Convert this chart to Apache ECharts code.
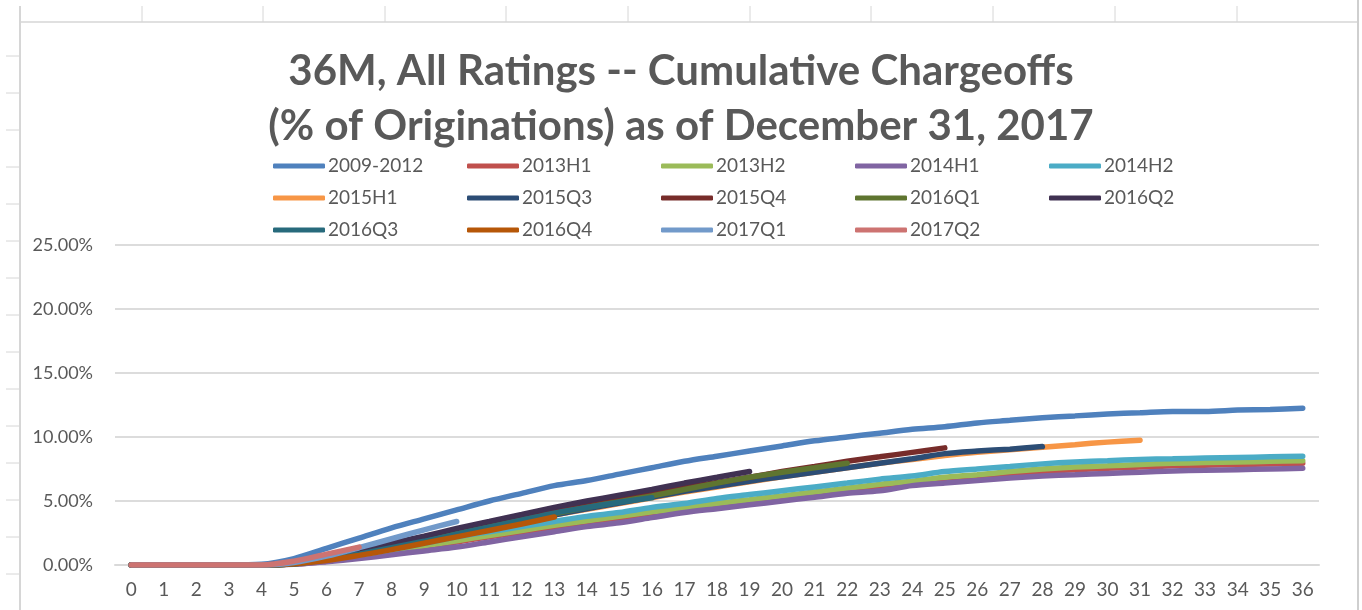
<!DOCTYPE html>
<html>
<head>
<meta charset="utf-8">
<script src="https://cdn.jsdelivr.net/npm/echarts@6/dist/echarts.min.js"></script>
<style>
  html, body { margin: 0; padding: 0; background: #fff; }
  #chart { width: 1362px; height: 610px; }
</style>
</head>
<body>
<div id="chart"></div>
<script>
// months on book
const months = ['0','1','2','3','4','5','6','7','8','9','10','11','12','13','14','15','16','17','18',
  '19','20','21','22','23','24','25','26','27','28','29','30','31','32','33','34','35','36'];

// cumulative chargeoffs, % of originations
const v2009_2012 = [0,0,0,0,0.05,0.5,1.3,2.1,2.9,3.6,4.3,5.0,5.6,6.2,6.6,7.1,7.6,8.1,8.5,8.9,9.3,9.7,10.0,10.3,10.6,10.8,11.1,11.3,11.5,11.65,11.8,11.9,12.0,12.0,12.1,12.15,12.25];
const v2013H1 = [0,0,0,0,0,0.07,0.3,0.65,1.0,1.4,1.8,2.2,2.55,2.95,3.3,3.65,4.0,4.3,4.65,4.95,5.25,5.55,5.85,6.1,6.4,6.65,6.85,7.1,7.3,7.45,7.55,7.65,7.75,7.8,7.85,7.9,7.95];
const v2013H2 = [0,0,0,0,0,0.08,0.35,0.7,1.05,1.5,1.9,2.3,2.7,3.1,3.45,3.8,4.15,4.45,4.8,5.1,5.4,5.7,6.0,6.3,6.55,6.85,7.05,7.3,7.5,7.65,7.75,7.85,7.95,8.0,8.05,8.1,8.15];
const v2014H1 = [0,0,0,0,0,0.05,0.25,0.5,0.8,1.1,1.4,1.8,2.2,2.6,3.0,3.3,3.7,4.1,4.4,4.7,5.0,5.3,5.6,5.8,6.2,6.4,6.6,6.8,6.95,7.05,7.15,7.25,7.35,7.4,7.45,7.5,7.55];
const v2014H2 = [0,0,0,0,0,0.1,0.4,0.8,1.2,1.7,2.2,2.6,3.0,3.4,3.8,4.1,4.5,4.8,5.2,5.5,5.8,6.1,6.4,6.7,6.95,7.3,7.5,7.7,7.9,8.05,8.15,8.25,8.3,8.35,8.4,8.45,8.5];
const v2015H1 = [0,0,0,0,0,0.1,0.45,0.9,1.4,1.9,2.4,2.9,3.4,3.9,4.35,4.8,5.25,5.7,6.1,6.5,6.9,7.25,7.6,7.95,8.25,8.55,8.8,9.0,9.2,9.4,9.6,9.75];
const v2015Q3 = [0,0,0,0,0,0.1,0.45,0.9,1.4,1.9,2.4,2.9,3.4,3.9,4.4,4.85,5.3,5.75,6.15,6.55,6.9,7.25,7.6,7.95,8.3,8.7,8.9,9.05,9.25];
const v2015Q4 = [0,0,0,0,0,0.15,0.5,1.0,1.5,2.05,2.6,3.15,3.7,4.2,4.7,5.15,5.6,6.05,6.45,6.85,7.3,7.7,8.1,8.45,8.8,9.15];
const v2016Q1 = [0,0,0,0,0,0.1,0.45,0.95,1.45,1.95,2.5,3.0,3.5,4.0,4.5,4.95,5.4,5.9,6.4,6.85,7.25,7.6,7.95];
const v2016Q2 = [0,0,0,0,0,0.15,0.6,1.15,1.7,2.25,2.85,3.4,3.95,4.5,5.0,5.45,5.9,6.4,6.85,7.3];
const v2016Q3 = [0,0,0,0,0,0.1,0.4,0.85,1.35,1.85,2.4,2.95,3.5,4.05,4.5,4.9,5.25];
const v2016Q4 = [0,0,0,0,0,0.1,0.35,0.75,1.2,1.7,2.2,2.7,3.2,3.75];
const v2017Q1 = [0,0,0,0,0,0.2,0.7,1.35,2.05,2.75,3.4];
const v2017Q2 = [0,0,0,0,0,0.3,0.85,1.4];

const seriesNames = ['2009-2012','2013H1','2013H2','2014H1','2014H2','2015H1','2015Q3',
  '2015Q4','2016Q1','2016Q2','2016Q3','2016Q4','2017Q1','2017Q2'];
const seriesValues = [v2009_2012, v2013H1, v2013H2, v2014H1, v2014H2, v2015H1, v2015Q3,
  v2015Q4, v2016Q1, v2016Q2, v2016Q3, v2016Q4, v2017Q1, v2017Q2];
const colors = ['#4f81bd','#c0504d','#9bbb59','#8064a2','#4bacc6','#f79646','#2c4d75',
  '#772c2a','#5f7530','#403152','#276a7c','#b65708','#729aca','#cd7371'];

const textColor = '#595959';
const sheetLine = '#d6d6d6';

// spreadsheet frame behind the chart
let frame = [];
frame.push({ type: 'line', shape: { x1: 20, y1: 22, x2: 1358, y2: 22 }, style: { stroke: sheetLine, lineWidth: 1.5 } });
frame.push({ type: 'line', shape: { x1: 20, y1: 6, x2: 20, y2: 610 }, style: { stroke: sheetLine, lineWidth: 2 } });
frame.push({ type: 'line', shape: { x1: 1358, y1: 0, x2: 1358, y2: 610 }, style: { stroke: '#cfcfcf', lineWidth: 2 } });
[142, 263, 385, 506, 628, 750, 871, 993, 1115, 1237].forEach((x) => {
  frame.push({ type: 'line', shape: { x1: x, y1: 6, x2: x, y2: 22 }, style: { stroke: sheetLine, lineWidth: 1 } });
});
for (let y = 56; y < 610; y += 37) {
  frame.push({ type: 'line', shape: { x1: 6, y1: y, x2: 20, y2: y }, style: { stroke: sheetLine, lineWidth: 1 } });
}

let option = {
  backgroundColor: '#fff',
  color: colors,
  animation: false,
  textStyle: { fontFamily: 'Lato' },
  title: {
    text: '36M, All Ratings -- Cumulative Chargeoffs\n(% of Originations) as of December 31, 2017',
    left: 'center',
    top: 44,
    padding: [0, 0, 0, 18],
    textStyle: {
      fontFamily: 'Lato',
      fontWeight: 'bold',
      fontSize: 42,
      lineHeight: 55,
      color: textColor
    }
  },
  legend: {
    left: 268,
    top: 151,
    width: 980,
    itemWidth: 52,
    itemHeight: 5,
    itemGap: 12,
    icon: 'roundRect',
    data: seriesNames,
    textStyle: {
      fontFamily: 'Lato',
      fontSize: 19,
      lineHeight: 20,
      width: 127,
      color: textColor,
      padding: [0, 0, 0, -2]
    }
  },
  grid: {
    left: 115,
    right: 43,
    top: 245,
    bottom: 45
  },
  xAxis: {
    type: 'category',
    data: months,
    axisTick: { show: false },
    axisLine: { lineStyle: { color: '#d9d9d9', width: 2 } },
    axisLabel: {
      interval: 0,
      margin: 15,
      fontSize: 19,
      color: textColor
    }
  },
  yAxis: {
    type: 'value',
    min: 0,
    max: 25,
    interval: 5,
    axisLine: { show: false },
    axisTick: { show: false },
    splitLine: { lineStyle: { color: '#dcdcdc', width: 2 } },
    axisLabel: {
      margin: 22,
      fontSize: 18,
      color: textColor,
      formatter: (v) => v.toFixed(2) + '%'
    }
  },
  graphic: frame,
  series: seriesNames.map((name, i) => {
    return {
      name: name,
      type: 'line',
      data: seriesValues[i],
      smooth: 0.3,
      showSymbol: false,
      symbol: 'none',
      lineStyle: { width: 5.5, color: colors[i], cap: 'round' },
      itemStyle: { color: colors[i] }
    };
  })
};

let chart = echarts.init(document.getElementById('chart'));
chart.setOption(option);
</script>
</body>
</html>
